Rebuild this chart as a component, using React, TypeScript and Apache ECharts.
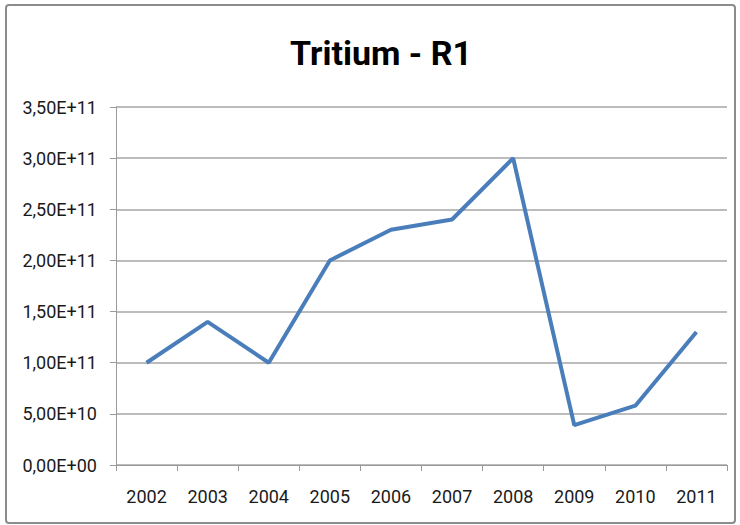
import React, { useEffect, useRef } from "react";
import * as echarts from "echarts";

const title = "Tritium - R1";
const years = ["2002", "2003", "2004", "2005", "2006", "2007", "2008", "2009", "2010", "2011"];
const values = [1.0e11, 1.4e11, 1.0e11, 2.0e11, 2.3e11, 2.4e11, 3.0e11, 0.39e11, 0.58e11, 1.3e11];
const yMin = 0;
const yMax = 3.5e11;
const yStep = 0.5e11;

function sci(v: number): string {
  if (v === 0) return "0,00E+00";
  const exp = Math.floor(Math.log10(Math.abs(v)) + 1e-9);
  const mant = v / Math.pow(10, exp);
  const e = exp < 10 ? "0" + exp : String(exp);
  return mant.toFixed(2).replace(".", ",") + "E+" + e;
}

export default function App() {
  const ref = useRef<HTMLDivElement>(null);
  useEffect(() => {
    document.body.style.margin = "0";
    const chart = echarts.init(ref.current!, null, { renderer: "svg" });
    const font = "Roboto, Open Sans, sans-serif";
    chart.setOption({
      animation: false,
      backgroundColor: "#ffffff",
      title: {
        text: title,
        left: 376,
        textAlign: "center",
        top: 31,
        textStyle: { fontFamily: font, fontSize: 34, fontWeight: "bold", color: "#000" },
      },
      graphic: [
        {
          type: "rect",
          shape: { x: 6, y: 5, width: 729, height: 518, r: 3 },
          style: { fill: "none", stroke: "#8c8c8c", lineWidth: 2 },
          silent: true,
        },
      ],
      grid: { left: 116, right: 13, top: 107, bottom: 60 },
      xAxis: {
        type: "category",
        data: years,
        boundaryGap: true,
        axisLine: { lineStyle: { color: "#9a9a9a", width: 1 } },
        axisTick: { show: true, alignWithLabel: false, interval: 0, length: 6, lineStyle: { color: "#9a9a9a" } },
        axisLabel: { fontFamily: font, fontSize: 18, color: "#1a1a1a", margin: 22, interval: 0 },
      },
      yAxis: {
        type: "value",
        min: yMin,
        max: yMax,
        interval: yStep,
        axisLine: { show: true, lineStyle: { color: "#9a9a9a", width: 1 } },
        axisTick: { show: true, length: 6, lineStyle: { color: "#9a9a9a" } },
        splitLine: { show: true, lineStyle: { color: "#a6a6a6", width: 1.5 } },
        axisLabel: { fontFamily: font, fontSize: 18, color: "#1a1a1a", margin: 19, formatter: sci },
      },
      series: [
        {
          type: "line",
          data: values,
          symbol: "none",
          lineStyle: { color: "#4a7ebb", width: 4 },
          itemStyle: { color: "#4a7ebb" },
        },
      ],
    });
    return () => chart.dispose();
  }, []);
  return <div ref={ref} style={{ width: 740, height: 525 }} />;
}
